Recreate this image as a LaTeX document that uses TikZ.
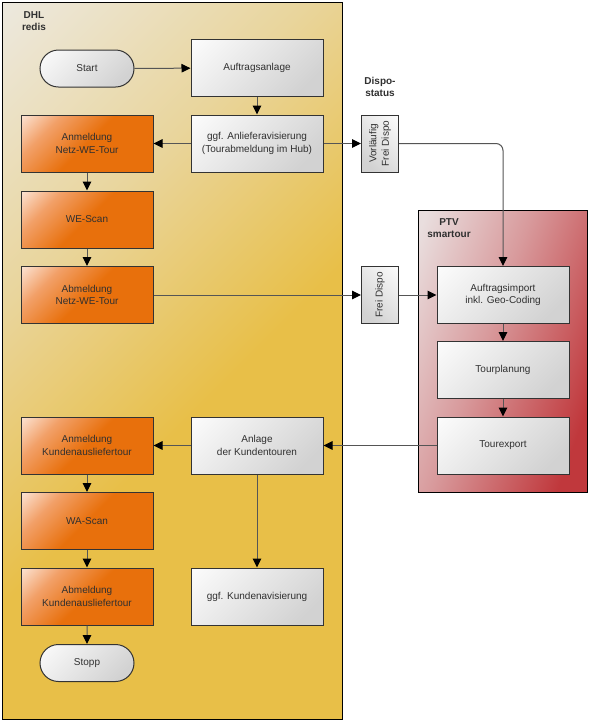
\documentclass[tikz,border=0pt]{standalone}
\usepackage{fontspec}
\setmainfont{Liberation Sans}
\usetikzlibrary{arrows.meta,shapes.misc}
\definecolor{dhlgold}{HTML}{E8BF48}
\definecolor{dhlmid}{HTML}{E9D59C}
\definecolor{dhllight}{HTML}{EDEBE7}
\definecolor{ptvred}{HTML}{C0383C}
\definecolor{ptvmid}{HTML}{D89A9C}
\definecolor{ptvlight}{HTML}{E9DEDE}
\definecolor{ordark}{HTML}{E8700C}
\definecolor{ormid}{HTML}{F2A068}
\definecolor{orlight}{HTML}{FDEFE6}
\definecolor{grdark}{HTML}{D2D2D2}
\definecolor{grlight}{HTML}{FCFCFC}
\definecolor{txt}{HTML}{303030}
\definecolor{linec}{HTML}{555555}
\definecolor{bord}{HTML}{333333}
\pgfdeclareverticalshading{dhlsh}{100bp}{color(0bp)=(dhlgold); color(45bp)=(dhlgold); color(65bp)=(dhlmid); color(88bp)=(dhllight); color(100bp)=(dhllight)}
\pgfdeclareverticalshading{ptvsh}{100bp}{color(0bp)=(ptvred); color(25bp)=(ptvred); color(55bp)=(ptvmid); color(80bp)=(ptvlight); color(100bp)=(ptvlight)}
\pgfdeclareverticalshading{orsh}{100bp}{color(0bp)=(ordark); color(50bp)=(ordark); color(70bp)=(ormid); color(88bp)=(orlight); color(100bp)=(orlight)}
\pgfdeclareverticalshading{grsh}{100bp}{color(0bp)=(grdark); color(25bp)=(grdark); color(85bp)=(grlight); color(100bp)=(grlight)}
\begin{document}
\begin{tikzpicture}[x=1pt,y=-1pt,
  font=\fontsize{10}{12.5}\selectfont,
  lane/.style={draw=black, line width=1pt, inner sep=0pt, shading angle=45},
  lanetitle/.style={font=\fontsize{10}{12.5}\selectfont\bfseries, text=txt, align=center, inner sep=0pt},
  box/.style={draw=bord, line width=1pt, minimum width=132pt, minimum height=57pt, inner sep=0pt, align=center, text=txt, shading=grsh, shading angle=45},
  obox/.style={box, shading=orsh},
  pill/.style={rounded rectangle, draw=bord, line width=1pt, minimum width=94pt, minimum height=37pt, inner sep=0pt, text=txt, shading=grsh, shading angle=45},
  sbox/.style={draw=bord, line width=1pt, minimum width=57pt, minimum height=37pt, inner sep=0pt, align=center, text=txt, shading=grsh, shading angle=-45, rotate=90},
  conn/.style={draw=linec, line width=1pt, -{Triangle[length=9pt,width=8.5pt,color=black]}}
]
\useasboundingbox[fill=white] (0,0) rectangle (592,724);
% lanes
\node[lane, shading=dhlsh, minimum width=340pt, minimum height=717pt] (dhl) at (172.5,361) {};
\node[lane, shading=ptvsh, shading angle=70, minimum width=169pt, minimum height=282pt] (ptv) at (502.5,351) {};
\node[lanetitle] (dhlt) at (34,21) {DHL\\redis};
\node[lanetitle] (ptvt) at (449,228) {PTV\\smartour};
\node[lanetitle] (dispot) at (380,87) {Dispo-\\status};
% nodes
\node[pill] (start) at (87,68.5) {Start};
\node[box] (auftrag) at (257,68) {Auftragsanlage};
\node[box] (anliefer) at (257,143.5) {ggf. Anlieferavisierung\\(Tourabmeldung im Hub)};
\node[obox] (anmnetz) at (87,143.5) {Anmeldung\\Netz-WE-Tour};
\node[obox] (wescan) at (87,219.5) {WE-Scan};
\node[obox] (abmnetz) at (87,295) {Abmeldung\\Netz-WE-Tour};
\node[sbox] (vorl) at (380,143.5) {Vorläufig\\Frei Dispo};
\node[sbox] (frei) at (380,295) {Frei Dispo};
\node[box] (import) at (503,295) {Auftragsimport\\inkl. Geo-Coding};
\node[box] (tourpl) at (503,370) {Tourplanung};
\node[box] (tourex) at (503,445.5) {Tourexport};
\node[box] (anlage) at (257,445.5) {Anlage\\der Kundentouren};
\node[obox] (anmk) at (87,445.5) {Anmeldung\\Kundenausliefertour};
\node[obox] (wascan) at (87,521) {WA-Scan};
\node[obox] (abmk) at (87,596.5) {Abmeldung\\Kundenausliefertour};
\node[box] (kundav) at (257,596.5) {ggf. Kundenavisierung};
\node[pill] (stopp) at (87,663) {Stopp};
% connectors
\draw[conn] (start) -- (auftrag);
\draw[conn] (auftrag) -- (anliefer);
\draw[conn] (anliefer) -- (anmnetz);
\draw[conn] (anliefer) -- (vorl);
\draw[conn, rounded corners=7pt] (vorl.south) -- (vorl.south -| import.north) -- (import.north);
\draw[conn] (anmnetz) -- (wescan);
\draw[conn] (wescan) -- (abmnetz);
\draw[conn] (abmnetz) -- (frei);
\draw[conn] (frei) -- (import);
\draw[conn] (import) -- (tourpl);
\draw[conn] (tourpl) -- (tourex);
\draw[conn] (tourex) -- (anlage);
\draw[conn] (anlage) -- (anmk);
\draw[conn] (anlage) -- (kundav);
\draw[conn] (anmk) -- (wascan);
\draw[conn] (wascan) -- (abmk);
\draw[conn] (abmk) -- (stopp);
\end{tikzpicture}
\end{document}
